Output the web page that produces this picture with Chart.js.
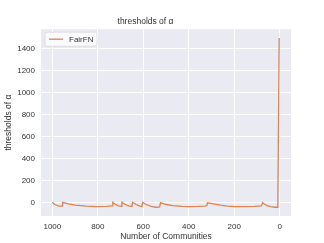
<!DOCTYPE html>
<html>
<head>
<meta charset="utf-8">
<script src="https://cdn.jsdelivr.net/npm/chart.js@4"></script>
<style>
  body { margin: 0; background: #fff; }
  canvas { display: block; }
</style>
</head>
<body>
<canvas id="myChart" width="324" height="243"></canvas>
<script>
// values
const communities = [1000, 990, 975, 965, 957, 955, 930, 900, 850, 800, 760, 737, 734, 725, 710, 697, 694, 682, 665, 650, 647,
  632, 615, 606, 603, 588, 565, 545, 528, 524, 500, 470, 430, 400, 360, 330, 320, 318, 290, 260, 230, 200, 150, 110, 80, 75,
  68, 55, 40, 20, 8, 2];
const thresholds = [0, -20, -33, -35, -35, 0, -15, -25, -35, -40, -38, -33, 0, -15, -32, -38, 0, -18, -32, -38, 0,
  -20, -34, -40, 0, -20, -38, -45, -42, -2, -20, -30, -37, -40, -38, -35, -30, -5, -15, -26, -35, -40, -40, -37, -33, -2,
  -15, -30, -40, -45, -45, 1500];
const xTicks = [1000, 800, 600, 400, 200, 0];
const yTicks = [0, 200, 400, 600, 800, 1000, 1200, 1400];

const textColor = '#333333';
const fontFamily = '"Liberation Sans", Arial, sans-serif';

const legendBox = {
  id: 'legendBox',
  afterDraw(chart) {
    const ctx = chart.ctx;
    const area = chart.chartArea;
    const ds = chart.data.datasets[0];
    const x = area.left + 4, y = area.top + 3, w = 52, h = 14;
    ctx.save();
    ctx.fillStyle = 'rgba(255,255,255,0.8)';
    ctx.strokeStyle = 'rgba(215,215,215,0.9)';
    ctx.lineWidth = 0.8;
    ctx.beginPath();
    ctx.roundRect(x, y, w, h, 2);
    ctx.fill();
    ctx.stroke();
    ctx.strokeStyle = ds.borderColor;
    ctx.lineWidth = 1.3;
    ctx.beginPath();
    ctx.moveTo(x + 4, y + h / 2);
    ctx.lineTo(x + 18, y + h / 2);
    ctx.stroke();
    ctx.fillStyle = textColor;
    ctx.font = '8px ' + fontFamily;
    ctx.textBaseline = 'middle';
    ctx.fillText(ds.label, x + 24, y + h / 2 + 0.5);
    ctx.restore();
  }
};

const plotBg = {
  id: 'plotBg',
  beforeDraw(chart) {
    const {ctx, chartArea: a} = chart;
    ctx.save();
    ctx.fillStyle = '#EAEAF2';
    ctx.fillRect(a.left, a.top, a.right - a.left, a.bottom - a.top);
    ctx.restore();
  }
};

const ctx = document.getElementById('myChart');
new Chart(ctx, {
  type: 'line',
  data: {
    datasets: [{
      label: 'FairFN',
      data: communities.map((c, i) => ({x: c, y: thresholds[i]})),
      borderColor: '#DD8452',
      backgroundColor: '#DD8452',
      borderWidth: 1.3,
      pointRadius: 0,
      fill: false,
      tension: 0
    }]
  },
  options: {
    responsive: false,
    animation: false,
    devicePixelRatio: 1,
    layout: { padding: { left: 0, right: 33, top: 0, bottom: 0 } },
    plugins: {
      legend: { display: false },
      tooltip: { enabled: false },
      title: {
        display: true,
        text: 'thresholds of α',
        color: textColor,
        font: { family: fontFamily, size: 8.5, weight: 'normal' },
        padding: { top: 17, bottom: 2 }
      }
    },
    scales: {
      x: {
        type: 'linear',
        reverse: true,
        min: -50,
        max: 1050,
        afterBuildTicks: s => { s.ticks = xTicks.map(v => ({value: v})); },
        afterFit: s => { s.height = 27; },
        grid: { color: '#ffffff', lineWidth: 1, drawTicks: false },
        border: { display: false },
        ticks: {
          color: textColor,
          padding: 6,
          maxRotation: 0,
          callback: v => String(v),
          font: { family: fontFamily, size: 8 }
        },
        title: {
          display: true,
          text: 'Number of Communities',
          color: textColor,
          font: { family: fontFamily, size: 8.5 },
          padding: { top: 0, bottom: 1 }
        }
      },
      y: {
        min: -125,
        max: 1580,
        afterBuildTicks: s => { s.ticks = yTicks.map(v => ({value: v})); },
        afterFit: s => { s.width = 41; },
        grid: { color: '#ffffff', lineWidth: 1, drawTicks: false },
        border: { display: false },
        ticks: {
          color: textColor,
          padding: 6,
          callback: v => String(v),
          font: { family: fontFamily, size: 8 }
        },
        title: {
          display: true,
          text: 'thresholds of α',
          color: textColor,
          font: { family: fontFamily, size: 8.5 },
          padding: { top: 4, bottom: 0 }
        }
      }
    }
  },
  plugins: [plotBg, legendBox]
});
</script>
</body>
</html>
